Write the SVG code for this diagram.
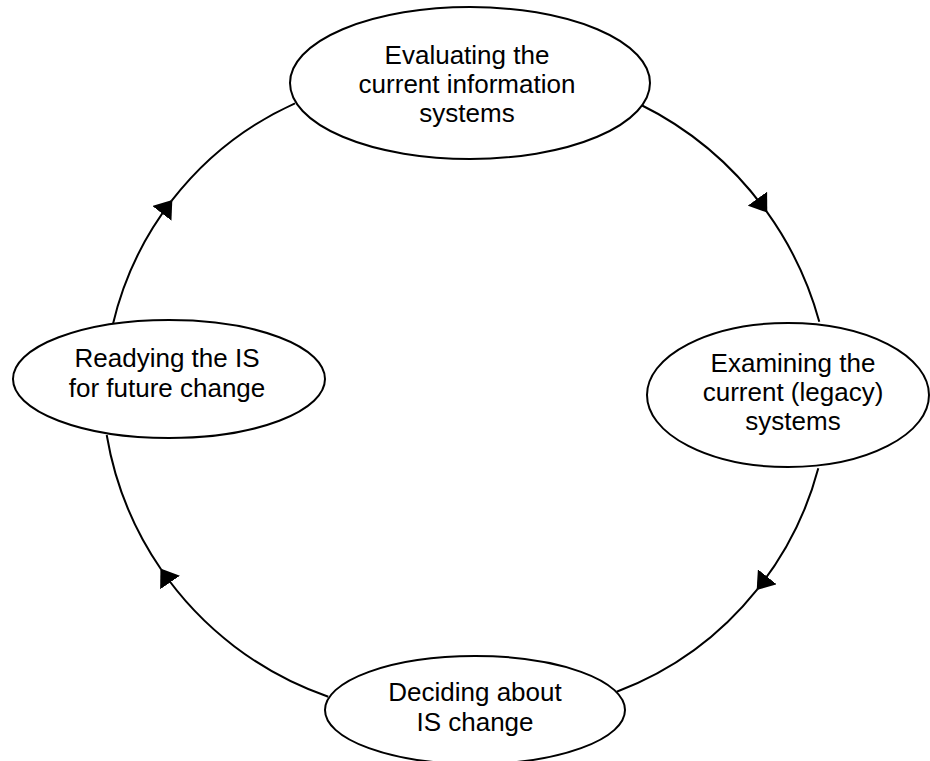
<svg xmlns="http://www.w3.org/2000/svg" width="930" height="761" viewBox="0 0 930 761">
  <style>
    .node ellipse { fill: #ffffff; stroke: #000000; stroke-width: 2; }
    .node text { font-family: "Liberation Sans", Arial, sans-serif; font-size: 26px; fill: #000000; text-anchor: middle; }
    .edge { fill: none; stroke: #000000; stroke-width: 2; }
  </style>
  <defs>
    <marker id="arrow" markerUnits="userSpaceOnUse" markerWidth="17" markerHeight="24" viewBox="0 0 17 24" refX="16" refY="12" orient="auto">
      <path d="M0,0 L17,12 L0,24 Z" fill="#000000"/>
    </marker>
  </defs>

  <rect width="930" height="761" fill="#ffffff"/>

  <!-- cycle connectors: each arc carries its arrowhead part-way along -->
  <g id="connectors">
    <path class="edge" d="M639.3,104 A344,344 0 0,1 766.7,211.7" marker-end="url(#arrow)"/>
    <path class="edge" d="M766.7,211.7 A344,344 0 0,1 819.3,321.7"/>

    <path class="edge" d="M818.3,468.3 A329,329 0 0,1 757.3,589.3" marker-end="url(#arrow)"/>
    <path class="edge" d="M757.3,589.3 A329,329 0 0,1 616.7,691.7"/>

    <path class="edge" d="M328.3,696.7 A336,336 0 0,1 161,569.3" marker-end="url(#arrow)"/>
    <path class="edge" d="M161,569.3 A336,336 0 0,1 106.7,435"/>

    <path class="edge" d="M112.7,325 A324,324 0 0,1 171.7,200.7" marker-end="url(#arrow)"/>
    <path class="edge" d="M171.7,200.7 A324,324 0 0,1 295,103.3"/>
  </g>

  <g id="evaluating" class="node">
    <ellipse cx="470" cy="83" rx="180" ry="76"/>
    <text x="467" y="64">Evaluating the</text>
    <text x="467" y="93">current information</text>
    <text x="467" y="122">systems</text>
  </g>

  <g id="examining" class="node">
    <ellipse cx="788" cy="395" rx="141" ry="72"/>
    <text x="793" y="372">Examining the</text>
    <text x="793" y="401">current (legacy)</text>
    <text x="793" y="430">systems</text>
  </g>

  <g id="deciding" class="node">
    <ellipse cx="475" cy="710" rx="150" ry="54"/>
    <text x="475" y="701">Deciding about</text>
    <text x="475" y="731">IS change</text>
  </g>

  <g id="readying" class="node">
    <ellipse cx="169" cy="379" rx="156" ry="59"/>
    <text x="167" y="367">Readying the IS</text>
    <text x="167" y="397">for future change</text>
  </g>
</svg>
